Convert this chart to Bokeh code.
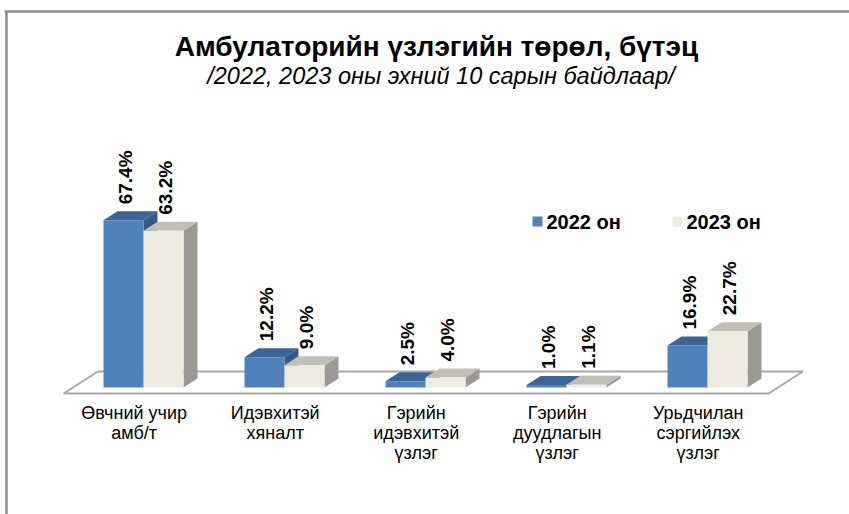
import math
from bokeh.plotting import figure
from bokeh.models import Range1d
from bokeh.core.properties import value
from bokeh.embed import file_html
from bokeh.resources import INLINE

# ---- data ----
categories = ["Өвчний учир\nамб/т", "Идэвхитэй\nхяналт", "Гэрийн\nидэвхитэй\nүзлэг",
              "Гэрийн\nдуудлагын\nүзлэг", "Урьдчилан\nсэргийлэх\nүзлэг"]
series_names = ["2022 он", "2023 он"]
values_2022 = [67.4, 12.2, 2.5, 1.0, 16.9]
values_2023 = [63.2, 9.0, 4.0, 1.1, 22.7]
title_text = "Амбулаторийн үзлэгийн төрөл, бүтэц"
subtitle_text = "/2022, 2023 оны  эхний  10 сарын байдлаар/"

# ---- layout / scale ----
W, H = 849, 514
OFF = 0        # observed page offset of the figure
PX_X = 141.0   # pixels per category unit
PX_Y = 2.48    # pixels per percent
X0 = 1 - (143 - OFF) / PX_X
Y_BASE_PAGE = 387


def dx(px):
    return px / PX_X


def dy(px):
    return px / PX_Y


def page_x(px):
    return X0 + (px - OFF) / PX_X


def page_y(py):
    return (Y_BASE_PAGE - py) / PX_Y


p = figure(width=W, height=H, output_backend="svg", toolbar_location=None,
           x_range=Range1d(X0, X0 + W / PX_X),
           y_range=Range1d(page_y(OFF + H), page_y(OFF)),
           min_border=0, background_fill_color="white", border_fill_color="white")
p.axis.visible = False
p.grid.visible = False
p.outline_line_color = None

FONT = "Liberation Sans"

# frame lines (top and left)
p.segment(x0=[page_x(4), page_x(6)], y0=[page_y(11), page_y(11)],
          x1=[page_x(860), page_x(6)], y1=[page_y(11), page_y(530)],
          line_color="#8E8E8E", line_width=2.5)

# ---- 3D geometry ----
n = len(categories)
bar_w = dx(40)
ddx, ddy = dx(14), dy(9)
# floor
f_front = -6.0 / 9.0
f_back = 16.0 / 9.0
fx0, fx1 = 0.5, n + 0.5
floor_x = [fx0 + f_front * ddx, fx1 + f_front * ddx, fx1 + f_back * ddx, fx0 + f_back * ddx]
floor_y = [f_front * ddy, f_front * ddy, f_back * ddy, f_back * ddy]
p.patch(floor_x, floor_y, fill_color="white", line_color="#A8A8A8", line_width=2)

series = [
    (values_2022, -1, "#4F81BD", "#3C6494", "#365A87"),
    (values_2023, 0, "#EEECE1", "#C2C0B6", "#9A9A92"),
]

for i in range(n):
    c = i + 1
    for vals, off, front_c, top_c, side_c in series:
        v = vals[i]
        x0 = c + off * bar_w
        x1 = x0 + bar_w
        p.patch([x1, x1 + ddx, x1 + ddx, x1], [0, ddy, v + ddy, v],
                fill_color=side_c, line_color=None)
        p.patch([x0, x1, x1 + ddx, x0 + ddx], [v, v, v + ddy, v + ddy],
                fill_color=top_c, line_color=None)
        p.patch([x0, x1, x1, x0], [0, 0, v, v], fill_color=front_c, line_color=None)

# ---- data labels ----
lab_x, lab_y, lab_t = [], [], []
for i in range(n):
    c = i + 1
    for vals, off in [(values_2022, -1), (values_2023, 0)]:
        v = vals[i]
        lab_x.append(c + off * bar_w + bar_w / 2 + dx(2))
        lab_y.append(v + dy(16))
        lab_t.append(f"{v:.1f}%")
p.text(x=lab_x, y=lab_y, text=lab_t, angle=math.pi / 2, text_align="left",
       text_baseline="middle", text_font=value(FONT), text_font_style="bold",
       text_font_size="19px", text_color="black")

# ---- category labels ----
cx, cy, ct = [], [], []
for i, cat in enumerate(categories):
    for j, line in enumerate(cat.split("\n")):
        cx.append(i + 1 + f_front * ddx)
        cy.append(page_y(412 + 20 * j))
        ct.append(line)
p.text(x=cx, y=cy, text=ct, text_align="center", text_baseline="middle",
       text_font=value(FONT), text_font_size="18px", text_color="black")

# ---- legend ----
leg_colors = ["#4F81BD", "#EEECE1"]
leg_px = [537, 677]
p.scatter(x=[page_x(v) for v in leg_px], y=[page_y(221)] * 2, marker="square",
          size=10, fill_color=leg_colors, line_color=None)
p.text(x=[page_x(v + 9) for v in leg_px], y=[page_y(221)] * 2, text=series_names,
       text_align="left", text_baseline="middle", text_font=value(FONT),
       text_font_style="bold", text_font_size="20px", text_color="black")

# ---- titles ----
p.text(x=[page_x(436)], y=[page_y(46)], text=[title_text], text_align="center",
       text_baseline="middle", text_font=value(FONT), text_font_style="bold",
       text_font_size="28px", text_color="black")
p.text(x=[page_x(447)], y=[page_y(75)], text=[subtitle_text], text_align="center",
       text_baseline="middle", text_font=value(FONT), text_font_style="italic",
       text_font_size="23.5px", text_color="black")

open("out.html", "w").write(file_html(p, INLINE))
